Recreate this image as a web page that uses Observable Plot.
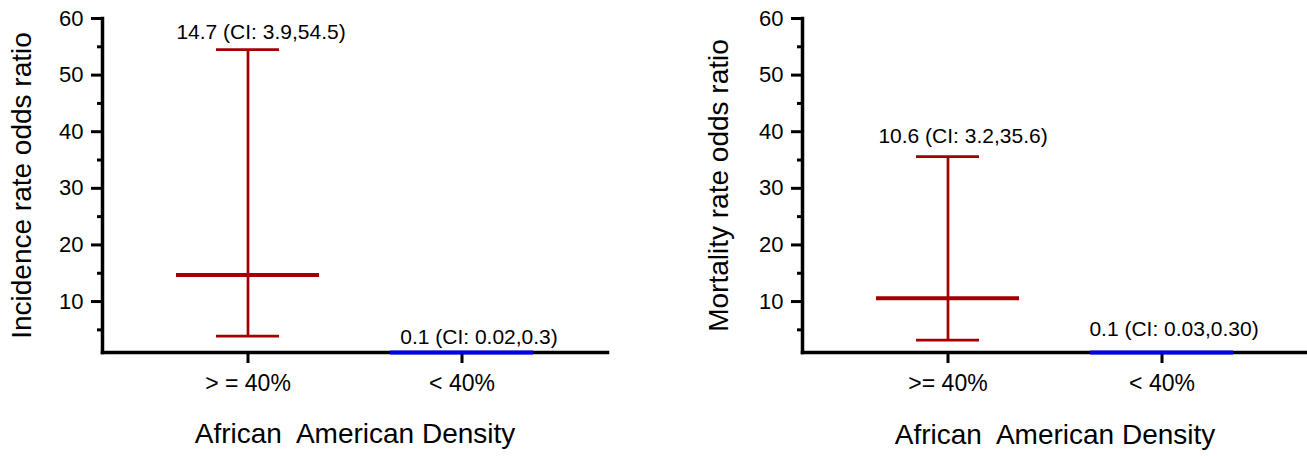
<!DOCTYPE html>
<html><head><meta charset="utf-8">
<script src="https://cdn.jsdelivr.net/npm/d3@7"></script>
<script src="https://cdn.jsdelivr.net/npm/@observablehq/plot@0.6"></script>
<style>
body{margin:0;background:#fff;}
#wrap{display:flex;width:1307px;height:456px;overflow:hidden;}
#wrap svg{display:block;}
#wrap g[aria-label="y-axis tick label"]{font-size:22px;}
#wrap g[aria-label="x-axis tick label"]{font-size:23px;}
</style></head><body><div id="wrap"></div>
<script>
// ---- data ----
const incidenceCategories = ["> = 40%", "< 40%"];
const incidenceOR = [14.7, 0.1];
const incidenceLow = [3.9, 0.02];
const incidenceHigh = [54.5, 0.3];
const incidenceLabels = ["14.7 (CI: 3.9,54.5)", "0.1 (CI: 0.02,0.3)"];

const mortalityCategories = [">= 40%", "< 40%"];
const mortalityOR = [10.6, 0.1];
const mortalityLow = [3.2, 0.03];
const mortalityHigh = [35.6, 0.30];
const mortalityLabels = ["10.6 (CI: 3.2,35.6)", "0.1 (CI: 0.03,0.30)"];

const majorTicks = [10, 20, 30, 40, 50, 60];
const minorTicks = [5, 15, 25, 35, 45, 55];
const yDomain = [1, 60];
const seriesColors = ["#a00000", "#0000f0"];

const FONT = '"Liberation Sans", Arial, Helvetica, sans-serif';

function panel(cfg) {
  const data = cfg.cats.map((c, i) => ({
    cat: c, or: cfg.or[i], low: cfg.low[i], high: cfg.high[i],
    label: cfg.labels[i], color: seriesColors[i]
  }));
  return Plot.plot({
    width: cfg.width, height: 456,
    marginLeft: 102, marginRight: cfg.marginRight, marginTop: 18, marginBottom: 104,
    style: {fontFamily: FONT, fontSize: "20px", color: "#000", background: "#fff", overflow: "visible"},
    x: {type: "band", domain: cfg.cats, paddingInner: 0.33, paddingOuter: 0.34},
    y: {domain: yDomain, clamp: true},
    color: {type: "identity"},
    marks: [
      Plot.axisY({ticks: minorTicks, tickSize: 5, tickFormat: () => "", strokeWidth: 3, label: null}),
      Plot.axisY({ticks: majorTicks, tickSize: 11, tickPadding: 8, strokeWidth: 3, fontSize: 22, label: null}),
      Plot.axisX({tickSize: 11, tickPadding: 11, strokeWidth: 3, fontSize: 23, label: null}),
      Plot.frame({anchor: "left", strokeWidth: 3.5}),
      Plot.frame({anchor: "bottom", strokeWidth: 3.5}),
      Plot.ruleX(data, {x: "cat", y1: "low", y2: "high", stroke: "color", strokeWidth: 2.7}),
      Plot.tickY(data, {x: "cat", y: "high", stroke: "color", strokeWidth: 2.7, insetLeft: 40, insetRight: 40}),
      Plot.tickY(data, {x: "cat", y: "low", stroke: "color", strokeWidth: 2.7, insetLeft: 40, insetRight: 40}),
      Plot.tickY(data, {x: "cat", y: "or", stroke: "color", strokeWidth: 4}),
      ...data.map((d, i) => Plot.text([d], {
        x: "cat", y: "high", text: "label", dx: cfg.labelDx[i], dy: cfg.labelDy[i],
        lineAnchor: "bottom", fontSize: 21, fill: "#000"
      })),
      Plot.text([cfg.yTitle], {frameAnchor: "left", rotate: -90, dx: cfg.yTitleDx, textAnchor: "middle", lineAnchor: "bottom", fontSize: 28, fill: "#000"}),
      Plot.text([cfg.xTitle], {frameAnchor: "bottom", dy: cfg.xTitleDy, textAnchor: "middle", lineAnchor: "bottom", fontSize: 28, fill: "#000"})
    ]
  });
}

const wrap = document.getElementById("wrap");
wrap.appendChild(panel({
  cats: incidenceCategories, or: incidenceOR, low: incidenceLow, high: incidenceHigh, labels: incidenceLabels,
  yTitle: "Incidence rate odds ratio", xTitle: "African  American Density",
  width: 700, marginRight: 93, labelDx: [13, 17], labelDy: [-11, -9], yTitleDx: -72, xTitleDy: 90
}));
wrap.appendChild(panel({
  cats: mortalityCategories, or: mortalityOR, low: mortalityLow, high: mortalityHigh, labels: mortalityLabels,
  yTitle: "Mortality rate odds ratio", xTitle: "African  American Density",
  width: 607, marginRight: 0, labelDx: [15, 12], labelDy: [-14, -17], yTitleDx: -75, xTitleDy: 91
}));
</script></body></html>
